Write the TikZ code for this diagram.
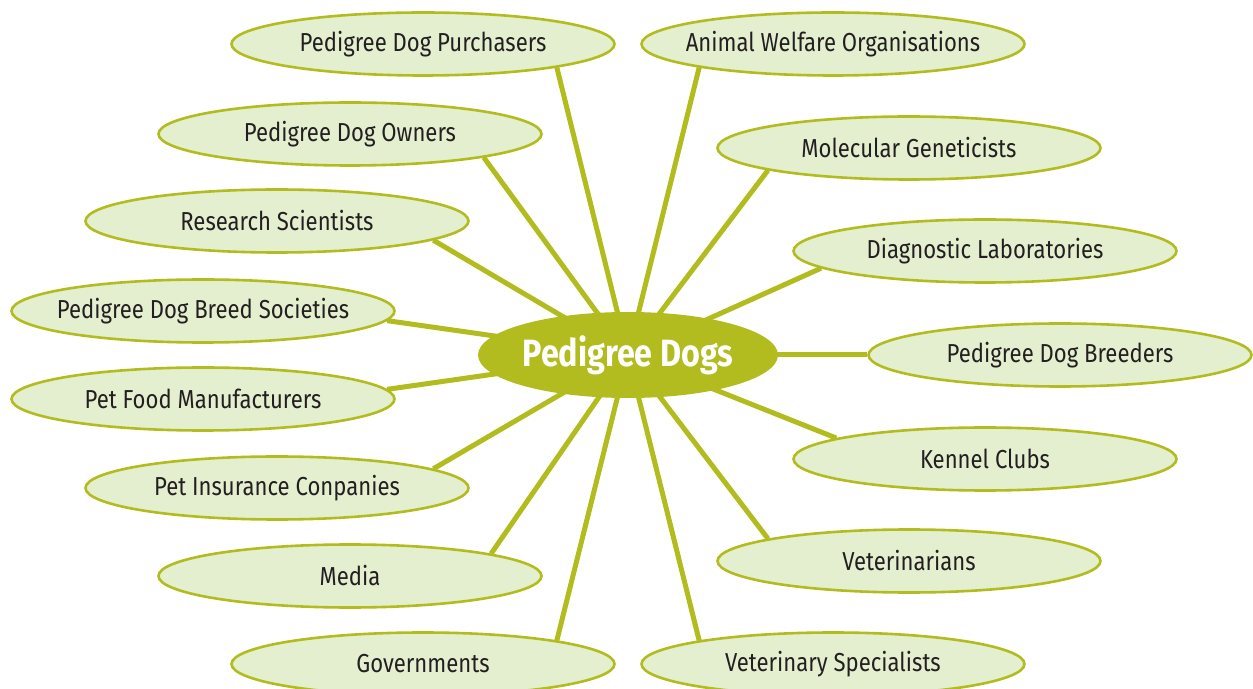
\documentclass[tikz,border=0pt]{standalone}
\usepackage{fontspec}
\setmainfont{Fira Sans}[FakeStretch=0.85]
\usepackage{xcolor}
\usetikzlibrary{shapes.geometric,backgrounds}
\definecolor{dogOlive}{RGB}{178,188,30}
\definecolor{dogLeaf}{RGB}{228,239,208}
\definecolor{dogInk}{RGB}{35,31,32}
\tikzset{
  group/.style={ellipse,draw=dogOlive,fill=dogLeaf,line width=1.3pt,minimum width=191.5pt,minimum height=31.5pt,inner xsep=-25pt,inner ysep=0pt,text=dogInk,font=\fontsize{13}{15}\selectfont},
  hub/.style={ellipse,fill=dogOlive,minimum width=150pt,minimum height=43pt,inner xsep=-20pt,inner ysep=0pt,text=white,font=\fontsize{19}{21}\selectfont\bfseries},
  spoke/.style={draw=dogOlive,line width=2.5pt}
}
\begin{document}
\begin{tikzpicture}[x=0.5pt,y=-0.5pt]
\useasboundingbox (0,0) rectangle (1253,689);
\node[hub] (dogs) at (628,355) {Pedigree Dogs};
\node[group] (purchasers) at (423,44) {Pedigree Dog Purchasers};
\node[group] (welfare) at (833,44) {Animal Welfare Organisations};
\node[group] (owners) at (350,134) {Pedigree Dog Owners};
\node[group] (geneticists) at (909,148) {Molecular Geneticists};
\node[group] (scientists) at (277,221) {Research Scientists};
\node[group] (labs) at (985,251) {Diagnostic Laboratories};
\node[group] (societies) at (203,311) {Pedigree Dog Breed Societies};
\node[group] (breeders) at (1060,355) {Pedigree Dog Breeders};
\node[group] (petfood) at (203,399) {Pet Food Manufacturers};
\node[group] (kennel) at (985,459) {Kennel Clubs};
\node[group] (insurance) at (277,488) {Pet Insurance Conpanies};
\node[group] (vets) at (909,561) {Veterinarians};
\node[group] (media) at (350,576) {Media};
\node[group] (specialists) at (833,664) {Veterinary Specialists};
\node[group] (governments) at (423,664) {Governments};
\begin{pgfonlayer}{background}
\draw[spoke] (dogs.center) -- (purchasers.-10);
\draw[spoke] (dogs.center) -- (welfare.-170);
\draw[spoke] (dogs.center) -- (owners.-10);
\draw[spoke] (dogs.center) -- (geneticists.-171);
\draw[spoke] (dogs.center) -- (scientists.-7);
\draw[spoke] (dogs.center) -- (labs.-174);
\draw[spoke] (dogs.center) -- (societies.-3);
\draw[spoke] (dogs.center) -- (breeders.180);
\draw[spoke] (dogs.center) -- (petfood.3);
\draw[spoke] (dogs.center) -- (kennel.172);
\draw[spoke] (dogs.center) -- (insurance.7);
\draw[spoke] (dogs.center) -- (vets.171);
\draw[spoke] (dogs.center) -- (media.9);
\draw[spoke] (dogs.center) -- (specialists.170);
\draw[spoke] (dogs.center) -- (governments.10);
\end{pgfonlayer}
\end{tikzpicture}
\end{document}
